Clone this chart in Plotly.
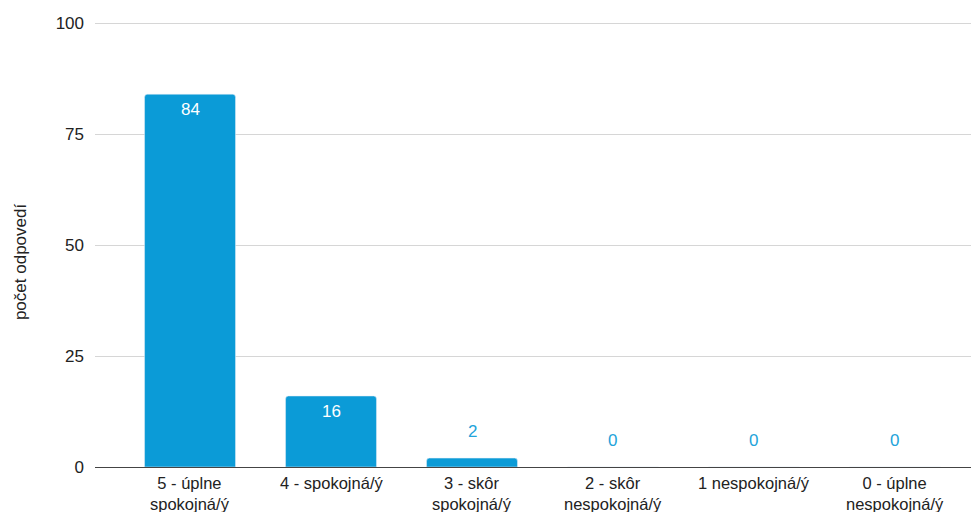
import plotly.graph_objects as go

label_line1 = ["5 - úplne", "4 - spokojná/ý", "3 - skôr", "2 - skôr", "1 nespokojná/ý", "0 - úplne"]
label_line2 = ["spokojná/ý", "", "spokojná/ý", "nespokojná/ý", "", "nespokojná/ý"]
values = [84, 16, 2, 0, 0, 0]
y_ticks = [0, 25, 50, 75, 100]
y_title = "počet odpovedí"

BAR = "#0b9bd7"
FONT = "Liberation Sans, Arial, Helvetica, sans-serif"

# screen-pixel helpers (page body adds an 8px offset)
PLOT_TOP, PLOT_BOTTOM, PLOT_LEFT, PLOT_RIGHT = 23, 467, 95, 979


def py(screen_y):
    return 1 - (screen_y - PLOT_TOP) / (PLOT_BOTTOM - PLOT_TOP)


def px(screen_x):
    return (screen_x - PLOT_LEFT) / (PLOT_RIGHT - PLOT_LEFT)


xs = list(range(len(values)))

fig = go.Figure()
fig.add_trace(go.Bar(
    x=xs, y=values,
    marker=dict(color=BAR, cornerradius=3),
    width=0.645,
    hoverinfo="skip",
))

annotations = []
for i, v in enumerate(values):
    inside = v >= 10
    annotations.append(dict(
        x=i, y=v, xref="x", yref="y", text=str(v), showarrow=False,
        yshift=-15 if inside else 27,
        font=dict(family=FONT, size=17, color="white" if inside else "#23a3da"),
    ))
for i in xs:
    text = label_line1[i] + ("<br>" + label_line2[i] if label_line2[i] else "")
    annotations.append(dict(
        x=i, y=py(473), xref="x", yref="paper", text=text, showarrow=False,
        yanchor="top", borderpad=0, font=dict(family=FONT, size=16.5, color="#222"),
    ))
annotations.append(dict(
    x=px(20), y=py(263), xref="paper", yref="paper", text=y_title, showarrow=False,
    textangle=-90, xanchor="center", yanchor="middle",
    font=dict(family=FONT, size=17, color="#222"),
))

fig.update_layout(
    width=979, height=512,
    margin=dict(l=87, r=8, t=13, b=53, autoexpand=False),
    plot_bgcolor="white", paper_bgcolor="white",
    showlegend=False,
    font=dict(family=FONT, size=17, color="#222"),
    annotations=annotations,
    xaxis=dict(
        tickvals=xs, showticklabels=False,
        range=[-0.674, 5.596], showgrid=False, zeroline=False,
        showline=True, linecolor="#444", linewidth=1.3,
        ticks="",
    ),
    yaxis=dict(
        range=[0, 100.5], tickvals=y_ticks, showgrid=True, gridcolor="#d6d6d6", gridwidth=1,
        zeroline=False, showline=False, ticks="", ticklabelstandoff=10,
        tickfont=dict(family=FONT, size=17, color="#222"),
    ),
)

fig.write_html("out.html")
